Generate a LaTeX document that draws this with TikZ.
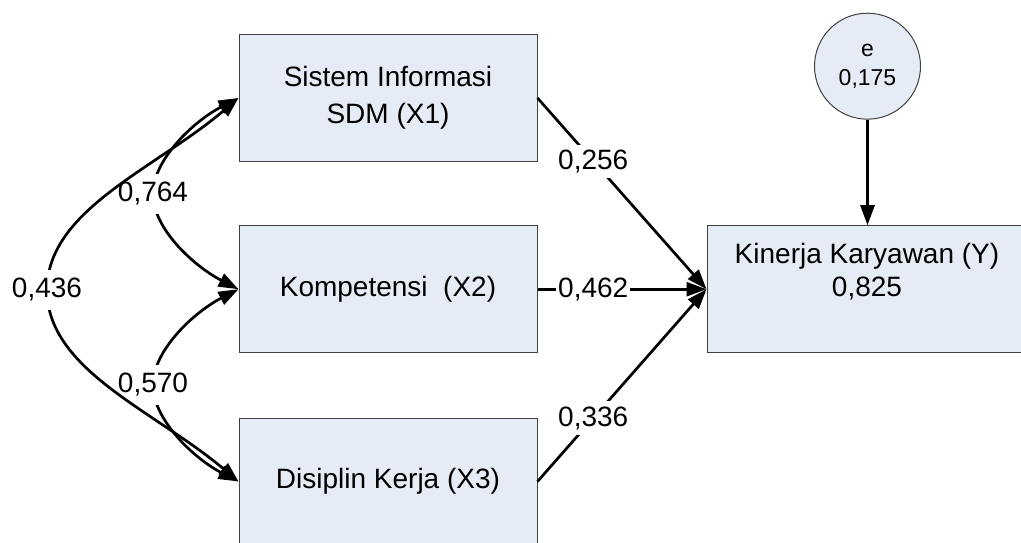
\documentclass[tikz,border=0pt]{standalone}
\usepackage{fontspec}
\setmainfont{Liberation Sans}
\usetikzlibrary{arrows.meta}
\definecolor{boxfill}{RGB}{230,236,246}
\definecolor{boxline}{RGB}{64,64,64}
\begin{document}
\begin{tikzpicture}[x=1pt,y=-1pt,
  box/.style={draw=boxline, line width=1pt, fill=boxfill, inner sep=0pt, align=center,
    font=\fontsize{28}{37}\selectfont},
  errc/.style={circle, draw=boxline, line width=1pt, fill=boxfill, inner sep=0pt,
    minimum size=106pt, align=center, font=\fontsize{23}{29}\selectfont},
  txt/.style={inner sep=0pt, align=center, font=\fontsize{28}{33}\selectfont},
  lab/.style={fill=white, inner xsep=2pt, inner ysep=5pt, font=\fontsize{28}{33}\selectfont},
  clab/.style={lab, inner ysep=8pt},
  arr/.style={line width=2.7pt, -{Triangle[length=20pt,width=14pt]}},
  dbl/.style={line width=2.7pt, {Triangle[length=20pt,width=14pt]}-{Triangle[length=20pt,width=14pt]}}
]
\useasboundingbox (0,0) rectangle (1021,543);
\clip (0,0) rectangle (1021,543);
% boxes
\node[box, minimum width=298pt, minimum height=127.5pt] (x1) at (388,98) {Sistem Informasi\\SDM (X1)};
\node[box, minimum width=298pt, minimum height=127pt] (x2) at (388,289.2) {Kompetensi\ \ (X2)};
\node[box, minimum width=298pt, minimum height=127pt] (x3) at (388,481.5) {Disiplin Kerja (X3)};
\node[box, minimum width=320pt, minimum height=127pt] (y) at (867,289.2) {};
\node[txt] (ytext) at (867,271.5) {Kinerja Karyawan (Y)\\0,825};
\node[errc] (e) at (867.5,66.2) {e\\0,175};
% paths to Y
\draw[arr] (x1.east) -- node[lab, pos=0.33] {0,256} (y.west);
\draw[arr] (x2.east) -- node[lab, pos=0.33] {0,462} (y.west);
\draw[arr] (x3.east) -- node[lab, pos=0.33] {0,336} (y.west);
\draw[arr] (e.south) -- (e.south |- y.north);
% correlations
\draw[dbl] (x1.west) .. controls (194.5,120.7) and (153,159) .. (153,194)
  node[clab] {0,764}
  .. controls (153,229) and (194.5,266.5) .. (x2.west);
\draw[dbl] (x2.west) .. controls (194.5,311.9) and (153,350) .. (153,385)
  node[clab] {0,570}
  .. controls (153,420) and (194.5,458.8) .. (x3.west);
\draw[dbl] (x1.west) .. controls (155,169) and (47,210) .. (47,290)
  node[clab] {0,436}
  .. controls (47,370) and (155,411) .. (x3.west);
\end{tikzpicture}
\end{document}
